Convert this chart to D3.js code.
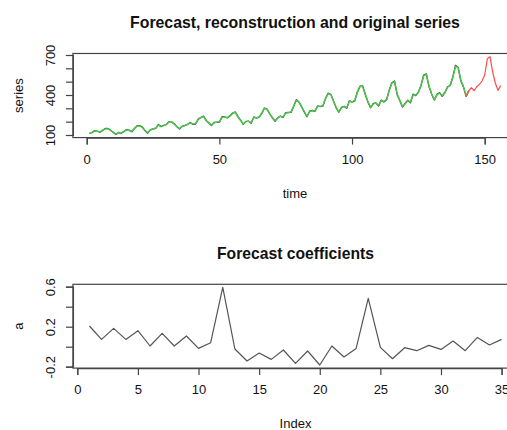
<!DOCTYPE html>
<html><head><meta charset="utf-8">
<script src="https://cdn.jsdelivr.net/npm/d3@7"></script>
<style>body{margin:0;background:#fff}svg{display:block}text{font-family:"Liberation Sans",Arial,Helvetica,sans-serif;fill:#111}</style>
</head><body><svg id="c" width="507" height="430"></svg>
<script>
// ---- data ----
const original = [112,118,132,129,121,135,148,148,136,119,104,118,
115,126,141,135,125,149,170,170,158,133,114,140,
145,150,178,163,172,178,199,199,184,162,146,166,
171,180,193,181,183,218,230,242,209,191,172,194,
196,196,236,235,229,243,264,272,237,211,180,201,
204,188,235,227,234,264,302,293,259,229,203,229,
242,233,267,269,270,315,364,347,312,274,237,278,
284,277,317,313,318,374,413,405,355,306,271,306,
315,301,356,348,355,422,465,467,404,347,305,336,
340,318,362,348,363,435,491,505,404,359,310,337,
360,342,406,396,420,472,548,559,463,407,362,405,
417,391,419,461,472,535,622,606,508,461,390,432];
const reconstruction = [110,121,130,127,124,136,146,147,134,120,107,116,
117,127,139,134,128,150,167,168,155,134,117,137,
144,152,173,166,170,180,197,200,182,163,148,164,
172,181,190,184,186,215,232,238,211,190,175,192,
195,200,232,232,231,245,266,268,239,210,184,199,
203,193,231,230,236,266,299,294,258,231,205,227,
240,237,265,268,274,316,359,349,310,276,240,274,
282,281,314,314,322,372,410,404,355,309,274,302,
313,306,352,349,359,420,463,464,406,350,308,332,
338,323,359,352,366,433,488,500,410,361,314,334,
359,347,401,399,421,474,543,555,467,409,366,401,
414,396,420,457,475,533,615,604,512,459,394,428];
const forecast = [455,432,462,480,505,550,672,688,572,490,435,470]; // t = 145..156
const coefficients = [0.207,0.073,0.183,0.073,0.16,0.007,0.133,0.007,0.107,-0.017,0.04,0.593,
-0.023,-0.143,-0.063,-0.127,-0.033,-0.167,-0.043,-0.183,0.007,-0.103,-0.017,0.483,
-0.007,-0.12,-0.01,-0.04,0.013,-0.027,0.057,-0.04,0.093,0.017,0.073];
const topXTicks = [0,50,100,150];
const topYTicks = [100,200,300,400,500,600,700];
const topYLabels = [100,400,700];
const botXTicks = [0,5,10,15,20,25,30,35];
const botYTicks = [-0.2,0,0.2,0.4,0.6];
const botYLabels = [-0.2,0.2,0.6];

const svg = d3.select("#c");
const FS = 13;
const axisCol = "#444";

function extend(lo, hi){ const r=(hi-lo)*0.04; return [lo-r, hi+r]; }

function panel(o){
  const g = svg.append("g");
  const x = d3.scaleLinear().domain(o.xRef).range(o.xPix);
  const y = d3.scaleLinear().domain(o.yRef).range(o.yPix);
  const xd = extend(o.xData[0], o.xData[1]), yd = extend(o.yData[0], o.yData[1]);
  const L = x(xd[0]), R = x(xd[1]), T = y(yd[1]), B = y(yd[0]);
  const inner = g.append("g");
  o.series.forEach(s=>{
    inner.append("path").datum(s.pts)
      .attr("fill","none").attr("stroke",s.color).attr("stroke-width",s.w||1)
      .attr("stroke-linejoin","round")
      .attr("d", d3.line().x(d=>x(d[0])).y(d=>y(d[1])));
  });
  g.append("rect").attr("x",L).attr("y",T).attr("width",R-L).attr("height",B-T)
    .attr("fill","none").attr("stroke",axisCol).attr("stroke-width",1.2);
  const xa = d3.axisBottom(x).tickValues(o.xTicks).tickSize(7).tickPadding(10).tickFormat(d3.format("d"));
  const gx = g.append("g").attr("transform",`translate(0,${B})`).call(xa);
  gx.select(".domain").attr("stroke",axisCol).attr("stroke-width",1.2);
  gx.selectAll(".tick line").attr("stroke",axisCol).attr("stroke-width",1.2);
  gx.selectAll("text").attr("font-size",FS).attr("fill","#111").attr("font-family",null);
  const ya = d3.axisLeft(y).tickValues(o.yTicks).tickSize(7).tickFormat(d=>o.yLabels.some(v=>Math.abs(v-d)<1e-9)? o.yFmt(d):"");
  const gy = g.append("g").attr("transform",`translate(${L},0)`).call(ya);
  gy.select(".domain").attr("stroke",axisCol).attr("stroke-width",1.2);
  gy.selectAll(".tick line").attr("stroke",axisCol).attr("stroke-width",1.2);
  gy.selectAll("text").attr("font-size",FS).attr("fill","#111").attr("font-family",null)
    .attr("x",null).attr("dy",null).attr("text-anchor","middle")
    .attr("transform",`translate(${50-L},0) rotate(-90)`).attr("dy","0.35em");
  const cx = (L+R)/2;
  const t = g.append("text").attr("x",cx).attr("y",o.titleY).attr("text-anchor","middle")
    .attr("font-weight","bold").attr("font-size",14).text(o.title);
  const w = t.node().getComputedTextLength();
  t.attr("font-size", 14*o.titleW/w);
  g.append("text").attr("x",cx).attr("y",o.xLabY).attr("text-anchor","middle").attr("font-size",FS).text(o.xLab);
  g.append("text").attr("transform",`translate(18,${(T+B)/2}) rotate(-90)`).attr("dy","0.35em")
    .attr("text-anchor","middle").attr("font-size",FS).text(o.yLab);
}

const t0 = original.map((v,i)=>[i+1,v]);
const rec = reconstruction.map((v,i)=>[i+1,v]);
const red = [[143,original[142]],[144,original[143]]].concat(forecast.map((v,i)=>[145+i,v]));
const allTop = original.concat(forecast);

panel({
  xRef:[0,150], xPix:[86.7,484.7], yRef:[100,700], yPix:[135,55],
  xData:[1,156], yData:[d3.min(allTop), d3.max(allTop)],
  xTicks: topXTicks, yTicks: topYTicks, yLabels: topYLabels, yFmt: d3.format("d"),
  series:[{pts:t0,color:"#555",w:1.5},{pts:rec,color:"#3ddc3d",w:1.1},{pts:red,color:"#ff4a4a",w:1.2}],
  title:"Forecast, reconstruction and original series", titleY:28, titleW:330,
  xLab:"time", xLabY:197.5, yLab:"series"
});

panel({
  xRef:[0,35], xPix:[77.3,501.6], yRef:[-0.2,0.6], yPix:[366.7,286.7],
  xData:[1,coefficients.length], yData:[d3.min(coefficients), d3.max(coefficients)],
  xTicks: botXTicks, yTicks: botYTicks, yLabels: botYLabels, yFmt: d=>d3.format(".1f")(d).replace("−","-"),
  series:[{pts:coefficients.map((v,i)=>[i+1,v]),color:"#555",w:1.2}],
  title:"Forecast coefficients", titleY:259, titleW:157,
  xLab:"Index", xLabY:427.5, yLab:"a"
});
</script></body></html>
